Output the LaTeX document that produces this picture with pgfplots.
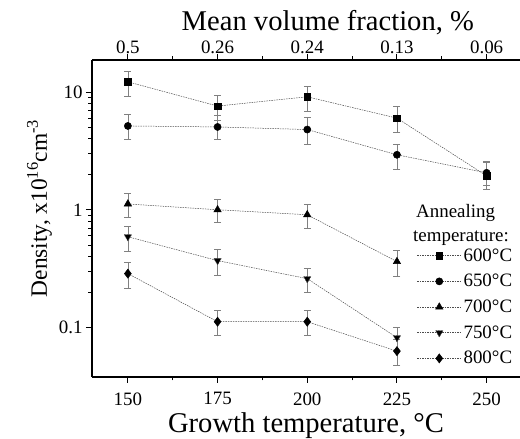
\documentclass[border=0pt]{standalone}
\usepackage{fontspec}
\setmainfont{Liberation Serif}
\usepackage{pgfplots}
\pgfplotsset{compat=1.18}

% x  y  err+  err-
\pgfplotstableread{
x   y     ep    em
150 12.2  2.9   3.1
175 7.6   1.8   1.9
200 9.1   2.1   2.2
225 6.0   1.5   1.5
250 1.94  0.6   0.45
}\tsix
\pgfplotstableread{
x   y     ep    em
150 5.15  1.35  1.15
175 5.05  1.3   1.1
200 4.8   1.3   1.2
225 2.93  0.67  0.73
250 2.06  0.5   0.45
}\tsixfifty
\pgfplotstableread{
x   y     ep    em
150 1.12  0.25  0.25
175 1.0   0.22  0.22
200 0.907 0.21  0.21
225 0.363 0.087 0.093
}\tseven
\pgfplotstableread{
x   y     ep    em
150 0.59  0.14  0.15
175 0.37  0.09  0.09
200 0.26  0.06  0.06
225 0.082 0.018 0.018
}\tsevenfifty
\pgfplotstableread{
x   y     ep    em
150 0.287 0.068 0.073
175 0.112 0.027 0.026
200 0.112 0.027 0.026
225 0.063 0.017 0.015
}\teight

\pgfplotsset{
  base/.style={
    scale only axis, width=428bp, height=317bp,
    xmin=140, xmax=259.3,
    tick align=outside,
    major tick length=6bp, minor tick length=3.5bp,
    tick label style={font=\fontsize{19}{22}\selectfont},
    label style={font=\fontsize{28.7}{33}\selectfont},
    xtick={150,175,200,225,250}, minor x tick num=1,
    axis line style={line width=1.2pt},
    every tick/.style={line width=1pt, black},
  },
  ser/.style={
    draw=black!70, line width=0.5pt, dash pattern=on 1.5pt off 1pt,
    mark options={solid, fill=black, draw=black},
    error bars/y dir=both, error bars/y explicit,
    error bars/error bar style={solid, draw=gray, line width=0.7pt},
    error bars/error mark options={rotate=90, mark size=3.5pt, solid, draw=gray, line width=0.7pt},
    legend image code/.code={
      \draw[mark repeat=2, mark phase=2] plot coordinates {(0bp,0bp) (22bp,0bp) (44bp,0bp)};
    },
  },
}

\begin{document}
\begin{tikzpicture}
  \begin{axis}[
    base, name=main,
    ymode=log, ymin=0.038, ymax=18.7,
    ytick={0.1,1,10}, yticklabels={0.1,1,10},
    xticklabels={150,175,200,225,250},
    xticklabel style={yshift=-6bp},
    axis x line*=bottom, axis y line*=left,
    xlabel={Growth temperature, °C},
    xlabel style={yshift=-1bp},
    ylabel={Density, x10\textsuperscript{16}cm\textsuperscript{-3}},
    ylabel style={at={(ticklabel cs:0.57)}, xshift=-12bp, font=\fontsize{23.5}{28}\selectfont},
    legend style={
      draw=none, fill=none,
      at={(axis description cs:0.752,0.418)}, anchor=north west,
      font=\fontsize{19}{22}\selectfont,
      row sep=7.6bp,
    },
    legend cell align=left,
  ]
    \addplot[ser, mark=square*, mark size=3.3pt]
      table[x=x, y=y, y error plus=ep, y error minus=em] {\tsix};
    \addlegendentry{600°C}
    \addplot[ser, mark=*, mark size=3.6pt]
      table[x=x, y=y, y error plus=ep, y error minus=em] {\tsixfifty};
    \addlegendentry{650°C}
    \addplot[ser, mark=triangle*, mark size=4.3pt]
      table[x=x, y=y, y error plus=ep, y error minus=em] {\tseven};
    \addlegendentry{700°C}
    \addplot[ser, mark=triangle*, mark size=4.3pt, mark options={rotate=180}]
      table[x=x, y=y, y error plus=ep, y error minus=em] {\tsevenfifty};
    \addlegendentry{750°C}
    \addplot[ser, mark=diamond*, mark size=4.6pt]
      table[x=x, y=y, y error plus=ep, y error minus=em] {\teight};
    \addlegendentry{800°C}

    \node[anchor=west, font=\fontsize{19}{22}\selectfont, inner sep=0pt]
      at (axis description cs:0.757,0.517) {Annealing};
    \node[anchor=west, font=\fontsize{19}{22}\selectfont, inner sep=0pt]
      at (axis description cs:0.750,0.438) {temperature:};
  \end{axis}

  \begin{axis}[
    base, at={(main.south west)}, anchor=south west,
    ymin=0, ymax=1,
    axis x line*=top, hide y axis,
    xticklabels={0.5,0.26,0.24,0.13,0.06},
    xticklabel style={yshift=-3.5bp},
    xlabel={Mean volume fraction, \%},
    xlabel style={at={(ticklabel cs:0.551)}, yshift=-1bp},
  ]
  \end{axis}

  \pgfresetboundingbox
  \path[use as bounding box] (main.south west) ++(-92bp,-62bp) rectangle ++(520bp,439bp);
\end{tikzpicture}
\end{document}
